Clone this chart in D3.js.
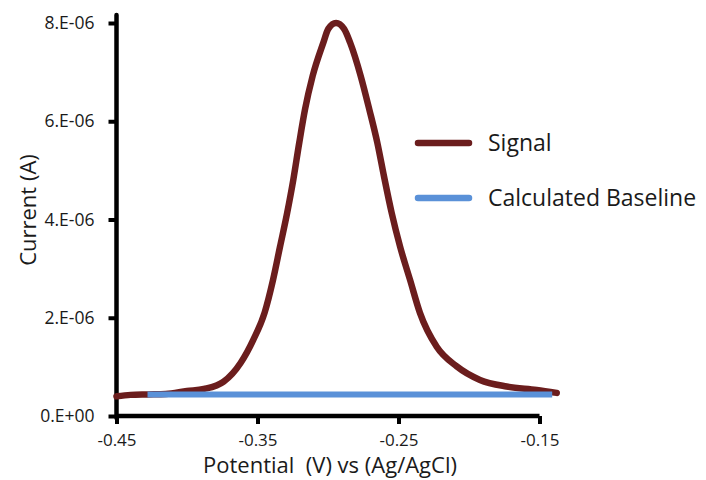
<!DOCTYPE html>
<html>
<head>
<meta charset="utf-8">
<script src="https://cdn.jsdelivr.net/npm/d3@7"></script>
<style>
  body { margin: 0; background: #fff; }
  text { font-family: "Open Sans", "Noto Sans", sans-serif; fill: #1a1a1a; }
</style>
</head>
<body>
<svg id="chart" width="706" height="480"></svg>
<script>
// Square-wave voltammogram: measured signal and its fitted baseline
const potential = [
  -0.450, -0.440, -0.428, -0.415, -0.400, -0.388, -0.374, -0.362, -0.353,
  -0.345, -0.339, -0.334, -0.329, -0.3246, -0.3204, -0.3163, -0.3109,
  -0.3033, -0.2998, -0.2943, -0.2886, -0.2843, -0.2768, -0.2707, -0.2650,
  -0.2603, -0.2548, -0.2489, -0.2418, -0.2348, -0.2229, -0.2087, -0.1922,
  -0.1733, -0.1520, -0.1378
];
const signalCurrent = [
  0.40e-6, 0.43e-6, 0.44e-6, 0.45e-6, 0.51e-6, 0.55e-6, 0.70e-6, 1.08e-6, 1.55e-6,
  2.10e-6, 2.77e-6, 3.45e-6, 4.13e-6, 4.81e-6, 5.56e-6, 6.24e-6, 6.92e-6,
  7.60e-6, 7.88e-6, 8.00e-6, 7.88e-6, 7.60e-6, 6.92e-6, 6.24e-6, 5.56e-6,
  4.88e-6, 4.13e-6, 3.45e-6, 2.77e-6, 2.10e-6, 1.41e-6, 1.01e-6, 0.735e-6,
  0.60e-6, 0.53e-6, 0.47e-6
];
const baselinePotential = [-0.428, -0.141];
const baselineCurrent = [0.44e-6, 0.44e-6];

const xTicks = [-0.45, -0.35, -0.25, -0.15];
const xTickLabels = ["-0.45", "-0.35", "-0.25", "-0.15"];
const yTicks = [0, 2e-6, 4e-6, 6e-6, 8e-6];
const yTickLabels = ["0.E+00", "2.E-06", "4.E-06", "6.E-06", "8.E-06"];
const seriesNames = ["Signal", "Calculated Baseline"];
const seriesColors = ["#6b1d1d", "#5a91d8"];

const svg = d3.select("#chart");

const x = d3.scaleLinear().domain([-0.45, -0.15]).range([116.5, 539.5]);
const y = d3.scaleLinear().domain([0, 8e-6]).range([416, 23]);

// Axes
const xAxis = d3.axisBottom(x)
  .tickValues(xTicks)
  .tickFormat((d, i) => xTickLabels[i])
  .tickSizeInner(8).tickSizeOuter(0).tickPadding(10);
const yAxis = d3.axisLeft(y)
  .tickValues(yTicks)
  .tickFormat((d, i) => yTickLabels[i])
  .tickSizeInner(8).tickSizeOuter(0).tickPadding(14);

const gx = svg.append("g").attr("transform", `translate(0,${y(0)})`).call(xAxis);
const gy = svg.append("g").attr("transform", `translate(${x(-0.45)},0)`).call(yAxis);

[gx, gy].forEach(g => {
  g.select(".domain").remove();
  g.selectAll(".tick line").attr("stroke", "#000").attr("stroke-width", 4);
  g.selectAll(".tick text")
    .attr("fill", "#1a1a1a")
    .style("font-family", '"Open Sans", "Noto Sans", sans-serif')
    .style("font-size", "17.5px");
});
gx.selectAll(".tick text").style("font-size", "17px");

// axis lines
svg.append("line")
  .attr("x1", x(-0.45)).attr("x2", x(-0.15))
  .attr("y1", y(0)).attr("y2", y(0))
  .attr("stroke", "#000").attr("stroke-width", 4.5);
svg.append("line")
  .attr("x1", x(-0.45)).attr("x2", x(-0.45))
  .attr("y1", y(0) + 2).attr("y2", 15)
  .attr("stroke", "#000").attr("stroke-width", 4.5)
  .attr("stroke-linecap", "round");

// Series
const line = d3.line().x(d => x(d[0])).y(d => y(d[1])).curve(d3.curveMonotoneX);

svg.append("path")
  .datum(potential.map((p, i) => [p, signalCurrent[i]]))
  .attr("d", line)
  .attr("fill", "none")
  .attr("stroke", seriesColors[0])
  .attr("stroke-width", 6.5)
  .attr("stroke-linecap", "round")
  .attr("stroke-linejoin", "round");

svg.append("path")
  .datum(baselinePotential.map((p, i) => [p, baselineCurrent[i]]))
  .attr("d", d3.line().x(d => x(d[0])).y(d => y(d[1])))
  .attr("fill", "none")
  .attr("stroke", seriesColors[1])
  .attr("stroke-width", 6);

// Axis titles
svg.append("text")
  .attr("x", 330).attr("y", 473)
  .attr("text-anchor", "middle")
  .style("font-size", "22px")
  .attr("xml:space", "preserve")
  .text("Potential  (V) vs (Ag/AgCl)");

svg.append("text")
  .attr("transform", "translate(36,210) rotate(-90)")
  .attr("text-anchor", "middle")
  .style("font-size", "22px")
  .text("Current (A)");

// Legend
const legend = svg.append("g");
seriesNames.forEach((name, i) => {
  const ly = 143 + i * 55;
  legend.append("line")
    .attr("x1", 418).attr("x2", 469)
    .attr("y1", ly).attr("y2", ly)
    .attr("stroke", seriesColors[i])
    .attr("stroke-width", 6.5)
    .attr("stroke-linecap", "round");
  legend.append("text")
    .attr("x", 488).attr("y", ly + 8)
    .style("font-size", "23px")
    .text(name);
});
</script>
</body>
</html>
